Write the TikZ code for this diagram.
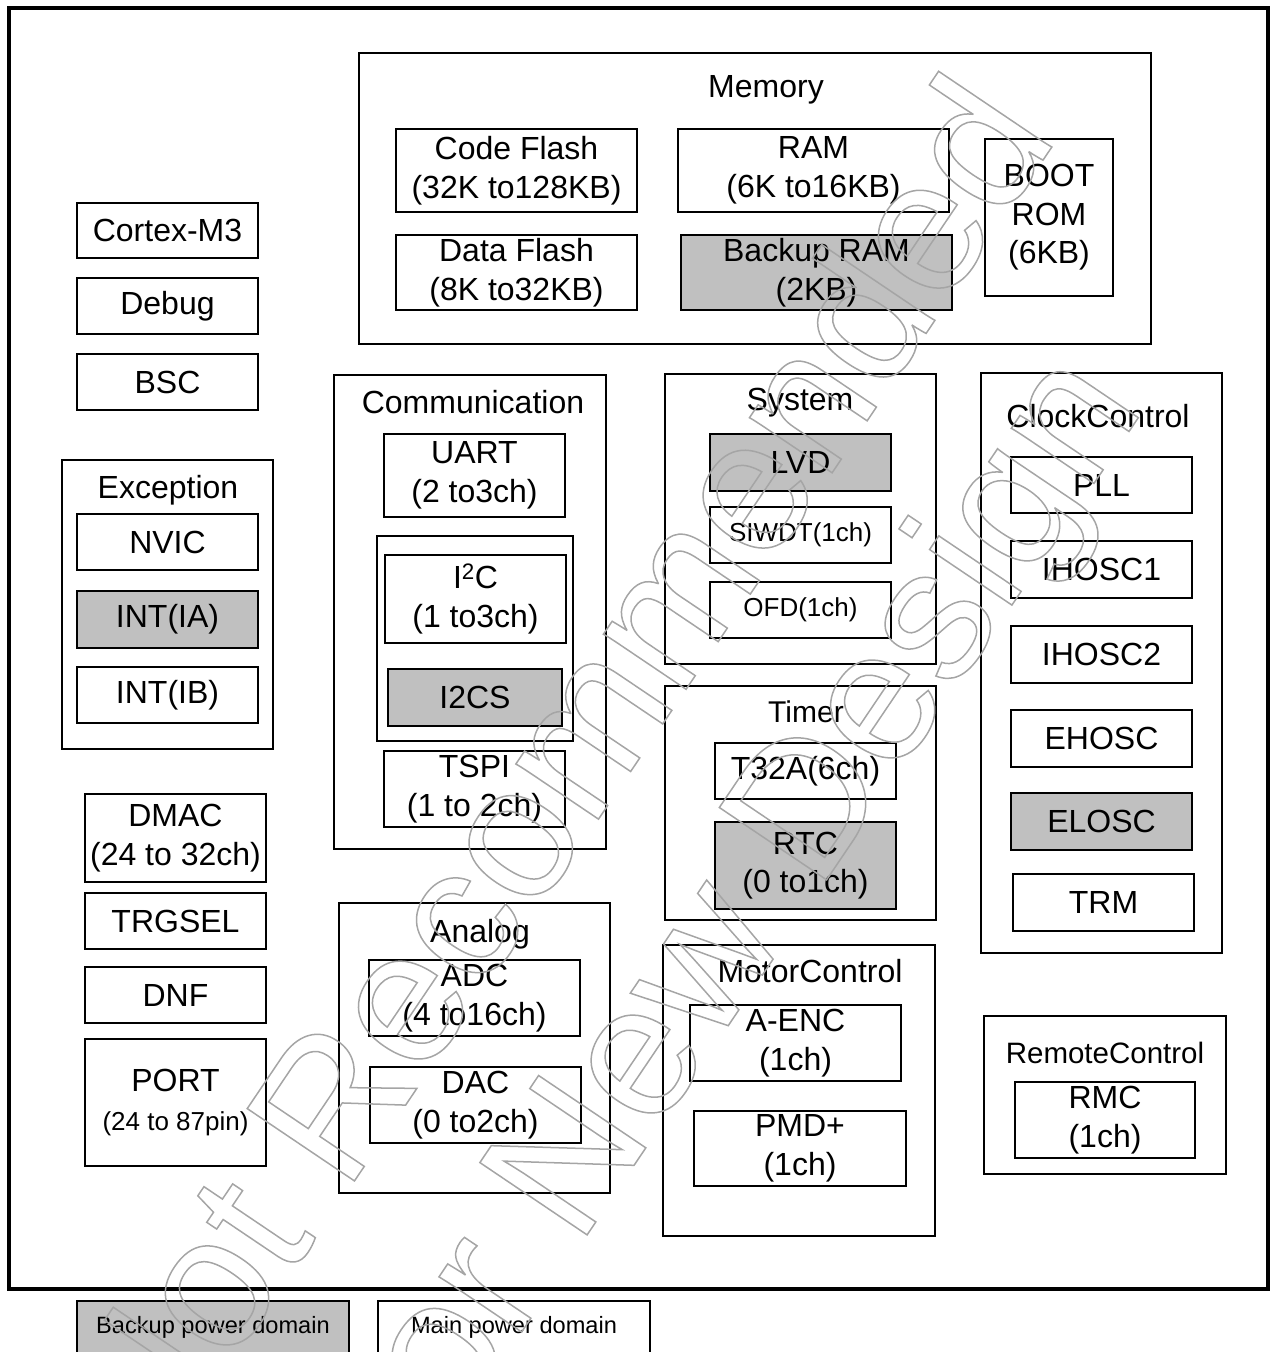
\documentclass[tikz,border=0pt]{standalone}
\usepackage{fontspec}
\setmainfont{Liberation Sans}
\newfontfamily\wmfont{Liberation Sans}
\definecolor{bkgray}{RGB}{192,192,192}
\definecolor{wmgray}{RGB}{165,165,165}
\newcommand\rbox[6]{\node[#1, minimum width={(#4)-(#2)}, minimum height={(#5)-(#3)}] (#6) at ({((#2)+(#4))/2},{((#3)+(#5))/2})}
\tikzset{
  grp/.style={draw=black, line width=2.6pt, inner sep=0pt},
  blk/.style={draw=black, line width=1.5pt, inner sep=0pt, align=center, font=\fontsize{32}{38.5}\selectfont},
  bk/.style={blk, fill=bkgray},
  sml/.style={font=\fontsize{26}{36}\selectfont},
  ttl/.style={anchor=base, inner sep=0pt, font=\fontsize{32}{38}\selectfont},
  wm/.style={rotate=56, anchor=base, inner sep=0pt, text=wmgray, font=\wmfont\fontsize{188}{188}\selectfont},
}
\begin{document}
\begin{tikzpicture}[x=1pt, y=-1pt]
\useasboundingbox (0,0) rectangle (1272,1352);
\clip (0,0) rectangle (1272,1352);
% outer frame
\rbox{grp, line width=3.2pt}{9}{8}{1268}{1289}{chip}{};
% Memory
\rbox{grp}{359}{53}{1151}{344}{memory}{};
\node[ttl] (memt) at (766,97) {Memory};
\rbox{blk}{396}{129}{637}{212}{cflash}{Code Flash\\(32K to128KB)};
\rbox{blk}{678}{129}{949}{212}{ram}{RAM\\(6K to16KB)};
\rbox{blk}{396}{235}{637}{310}{dflash}{Data Flash\\(8K to32KB)};
\rbox{bk}{681}{235}{952}{310}{bram}{Backup RAM\\(2KB)};
\rbox{blk}{985}{139}{1113}{296}{brom}{BOOT\\ROM\\(6KB)};
% left column
\rbox{blk}{77}{203}{258}{258}{cortex}{Cortex-M3};
\rbox{blk}{77}{278}{258}{334}{debug}{Debug};
\rbox{blk}{77}{354}{258}{410}{bsc}{BSC};
\rbox{grp}{62}{460}{273}{749}{exc}{};
\node[ttl] (exct) at (168,498) {Exception};
\rbox{blk}{77}{514}{258}{570}{nvic}{NVIC};
\rbox{bk}{77}{591}{258}{648}{intia}{INT(IA)};
\rbox{blk}{77}{667}{258}{723}{intib}{INT(IB)};
\rbox{blk}{85}{794}{266}{882}{dmac}{DMAC\\(24 to 32ch)};
\rbox{blk}{85}{893}{266}{949}{trgsel}{TRGSEL};
\rbox{blk}{85}{967}{266}{1023}{dnf}{DNF};
\rbox{blk}{85}{1039}{266}{1166}{port}{PORT\\{\fontsize{26}{36}\selectfont(24 to 87pin)}};
% Communication
\rbox{grp}{334}{375}{606}{849}{comm}{};
\node[ttl] (commt) at (473,413) {Communication};
\rbox{blk}{384}{434}{565}{517}{uart}{UART\\(2 to3ch)};
\rbox{blk}{377}{536}{573}{741}{i2cg}{};
\rbox{blk}{385}{555}{566}{643}{i2c}{I\textsuperscript{2}C\\(1 to3ch)};
\rbox{bk}{388}{669}{562}{726}{i2cs}{I2CS};
\rbox{blk}{384}{751}{565}{827}{tspi}{TSPI\\(1 to 2ch)};
% System
\rbox{grp}{665}{374}{936}{664}{sys}{};
\node[ttl] (syst) at (800,410) {System};
\rbox{bk}{710}{434}{891}{491}{lvd}{LVD};
\rbox{blk, sml}{710}{507}{891}{563}{siwdt}{SIWDT(1ch)};
\rbox{blk, sml}{710}{582}{891}{638}{ofd}{OFD(1ch)};
% Timer
\rbox{grp}{665}{686}{936}{920}{tmr}{};
\node[ttl, font=\fontsize{30}{36}\selectfont] (tmrt) at (806,722) {Timer};
\rbox{blk}{715}{743}{896}{799}{t32a}{T32A(6ch)};
\rbox{bk}{715}{822}{896}{909}{rtc}{RTC\\(0 to1ch)};
% Clock control
\rbox{grp}{981}{373}{1222}{953}{clk}{};
\node[ttl] (clkt) at (1098,427) {ClockControl};
\rbox{blk}{1011}{457}{1192}{513}{pll}{PLL};
\rbox{blk}{1011}{541}{1192}{598}{ihosc1}{IHOSC1};
\rbox{blk}{1011}{626}{1192}{683}{ihosc2}{IHOSC2};
\rbox{blk}{1011}{710}{1192}{767}{ehosc}{EHOSC};
\rbox{bk}{1011}{793}{1192}{850}{elosc}{ELOSC};
\rbox{blk}{1013}{874}{1194}{931}{trm}{TRM};
% Analog
\rbox{grp}{339}{903}{610}{1193}{ana}{};
\node[ttl] (anat) at (480,942) {Analog};
\rbox{blk}{369}{960}{580}{1036}{adc}{ADC\\(4 to16ch)};
\rbox{blk}{370}{1067}{581}{1143}{dac}{DAC\\(0 to2ch)};
% Motor control
\rbox{grp}{663}{945}{935}{1236}{mot}{};
\node[ttl] (mott) at (810,982) {MotorControl};
\rbox{blk}{690}{1005}{901}{1081}{aenc}{A-ENC\\(1ch)};
\rbox{blk}{694}{1111}{906}{1186}{pmd}{PMD+\\(1ch)};
% Remote control
\rbox{grp}{984}{1016}{1226}{1174}{rem}{};
\node[ttl, font=\fontsize{29.5}{36}\selectfont] (remt) at (1105,1063) {RemoteControl};
\rbox{blk}{1015}{1082}{1195}{1158}{rmc}{RMC\\(1ch)};
% legend
\rbox{bk, font=\fontsize{23.6}{28}\selectfont}{77}{1301}{349}{1353}{legbk}{Backup power domain};
\rbox{blk, font=\fontsize{23.6}{28}\selectfont}{378}{1301}{650}{1353}{legmain}{Main power domain};
% watermark
\node[wm] (wm1) at (606,808) {\special{pdf:literal direct 1 Tr 1.5 w}Not Recommended\special{pdf:literal direct 0 Tr}};
\node[wm] (wm2) at (786,940) {\special{pdf:literal direct 1 Tr 1.5 w}for New Design\special{pdf:literal direct 0 Tr}};
\end{tikzpicture}
\end{document}
